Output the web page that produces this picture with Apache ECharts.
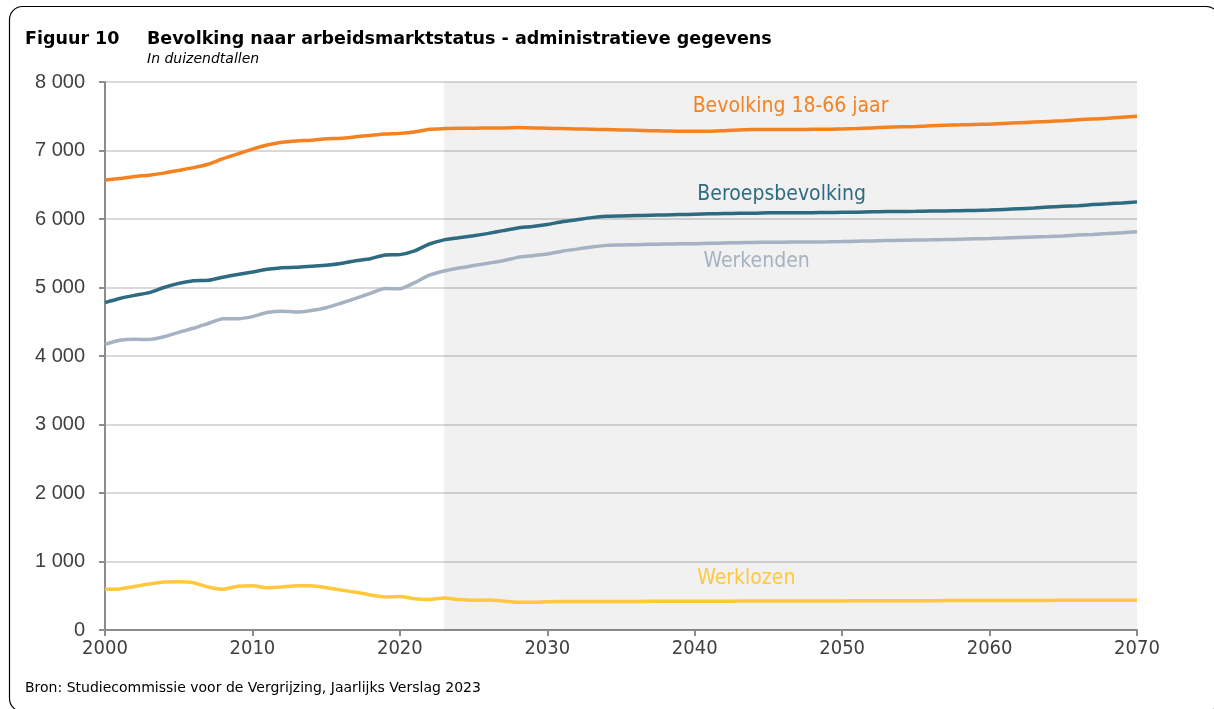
<!DOCTYPE html>
<html>
<head>
    <meta charset="utf-8">
    <title>Figuur 10</title>
    <style>
        html, body { margin: 0; padding: 0; background: #fff; }
    </style>
</head>
<body>
<script src="https://cdn.jsdelivr.net/npm/echarts@6/dist/echarts.min.js" type="text/javascript" charset="utf-8"></script>
<div id="main" style="width: 1214px;height:709px;"></div>
<script type="text/javascript">
    // jaren 2000 - 2070
    var years = [];
    for (var y = 2000; y <= 2070; y++) years.push(y);

    var bevolking = [
        6570, 6590, 6620, 6640, 6670, 6710, 6750, 6800, 6880, 6950,
        7020, 7080, 7120, 7140, 7150, 7170, 7180, 7200, 7220, 7240,
        7250, 7270, 7310, 7320, 7325, 7325, 7330, 7330, 7335, 7330,
        7325, 7320, 7315, 7310, 7305, 7300, 7295, 7290, 7285, 7280,
        7280, 7280, 7290, 7300, 7305, 7305, 7305, 7305, 7310, 7310,
        7315, 7320, 7330, 7340, 7345, 7350, 7360, 7370, 7375, 7380,
        7385, 7395, 7405, 7415, 7425, 7435, 7450, 7460, 7470, 7485,
        7500
    ];
    var beroepsbevolking = [
        4780, 4840, 4885, 4925, 5000, 5060, 5100, 5105, 5150, 5190,
        5225, 5265, 5290, 5295, 5310, 5325, 5350, 5390, 5420, 5475,
        5480, 5535, 5635, 5695, 5725, 5755, 5790, 5830, 5870, 5890,
        5920, 5960, 5990, 6020, 6040, 6045, 6050, 6055, 6060, 6065,
        6070, 6075, 6080, 6085, 6085, 6090, 6090, 6090, 6092, 6095,
        6098, 6100, 6105, 6108, 6110, 6112, 6115, 6118, 6120, 6125,
        6130, 6140, 6150, 6160, 6175, 6185, 6195, 6210, 6222, 6235,
        6250
    ];
    var werkenden = [
        4170, 4230, 4245, 4240, 4280, 4345, 4405, 4475, 4545, 4545,
        4575, 4635, 4655, 4642, 4665, 4705, 4770, 4840, 4915, 4985,
        4980, 5070, 5180, 5240, 5285, 5320, 5355, 5390, 5440, 5465,
        5490, 5530, 5560, 5590, 5615, 5620, 5625, 5630, 5635, 5638,
        5640, 5645, 5650, 5655, 5658, 5660, 5662, 5664, 5665, 5667,
        5670, 5675, 5680, 5685, 5690, 5693, 5696, 5700, 5705, 5710,
        5715, 5722, 5730, 5738, 5745, 5753, 5765, 5775, 5787, 5800,
        5815
    ];
    var werklozen = [
        595, 600, 635, 672, 700, 705, 690, 628, 595, 638,
        647, 618, 628, 647, 647, 618, 585, 550, 512, 483,
        490, 455, 445, 467, 445, 433, 438, 423, 405, 405,
        414, 415, 415, 416, 416, 417, 417, 418, 418, 419,
        420, 421, 421, 422, 422, 423, 423, 424, 424, 425,
        425, 426, 426, 427, 427, 428, 428, 429, 429, 430,
        430, 431, 431, 432, 432, 433, 433, 434, 434, 435,
        435
    ];

    var yTicks = [0, 1000, 2000, 3000, 4000, 5000, 6000, 7000, 8000];
    var xTicks = [2000, 2010, 2020, 2030, 2040, 2050, 2060, 2070];
    var projectieVanaf = 2023;

    function pairs(arr) {
        return years.map(function (yr, i) { return [yr, arr[i]]; });
    }

    var labelFont = '"DejaVu Sans Condensed", "DejaVu Sans", sans-serif';

    function lijn(naam, data, kleur, labelPos) {
        return {
            name: naam,
            type: 'line',
            data: pairs(data),
            showSymbol: false,
            smooth: 0.2,
            lineStyle: { color: kleur, width: 3.5 },
            itemStyle: { color: kleur },
            markPoint: {
                symbol: 'circle',
                symbolSize: 0,
                silent: true,
                data: [{ coord: labelPos, value: naam }],
                label: {
                    show: true,
                    position: 'inside',
                    formatter: naam,
                    color: kleur,
                    fontFamily: labelFont,
                    fontSize: 21
                }
            }
        };
    }

    var myChart = echarts.init(document.getElementById('main'));

    var series = [
        lijn('Bevolking 18-66 jaar', bevolking, '#F58220', [2046.5, 7635]),
        lijn('Beroepsbevolking', beroepsbevolking, '#2F6B80', [2045.9, 6350]),
        lijn('Werkenden', werkenden, '#A6B2C1', [2044.2, 5385]),
        lijn('Werklozen', werklozen, '#FFC83D', [2043.5, 745])
    ];
    // grijze achtergrond voor projectieperiode
    series[0].markArea = {
        silent: true,
        itemStyle: { color: 'rgba(0,0,0,0.055)' },
        data: [[{ xAxis: projectieVanaf }, { xAxis: 2070 }]]
    };

    var option = {
        animation: false,
        backgroundColor: '#fff',
        grid: { left: 105, right: 77, top: 82, bottom: 79 },
        graphic: [
            {
                type: 'rect',
                shape: { x: 9.5, y: 6.5, width: 1210, height: 705, r: 13 },
                style: { fill: 'none', stroke: '#000', lineWidth: 1.2 },
                silent: true
            },
            {
                type: 'text', left: 25, top: 30,
                style: { text: 'Figuur 10', font: 'bold 17.5px "DejaVu Sans", sans-serif', fill: '#000' }
            },
            {
                type: 'text', left: 147, top: 30,
                style: { text: 'Bevolking naar arbeidsmarktstatus - administratieve gegevens', font: 'bold 17.5px "DejaVu Sans", sans-serif', fill: '#000' }
            },
            {
                type: 'text', left: 147, top: 52,
                style: { text: 'In duizendtallen', font: 'italic 14px "DejaVu Sans", sans-serif', fill: '#000' }
            },
            {
                type: 'text', left: 25, top: 681,
                style: { text: 'Bron: Studiecommissie voor de Vergrijzing, Jaarlijks Verslag 2023', font: '14px "DejaVu Sans", sans-serif', fill: '#000' }
            }
        ],
        xAxis: {
            type: 'value',
            min: xTicks[0],
            max: xTicks[xTicks.length - 1],
            interval: 10,
            axisLine: { lineStyle: { color: '#8c8c8c', width: 2 } },
            axisTick: { show: true, length: 6, lineStyle: { color: '#8c8c8c', width: 2 } },
            splitLine: { show: false },
            axisLabel: {
                color: '#404040',
                fontFamily: labelFont,
                fontSize: 20,
                margin: 9,
                formatter: function (v) { return String(v); }
            }
        },
        yAxis: {
            type: 'value',
            min: yTicks[0],
            max: yTicks[yTicks.length - 1],
            interval: 1000,
            axisLine: { show: true, lineStyle: { color: '#8c8c8c', width: 2 } },
            axisTick: { show: true, length: 6, lineStyle: { color: '#8c8c8c', width: 2 } },
            splitLine: { show: true, lineStyle: { color: '#d9d9d9', width: 2 } },
            axisLabel: {
                color: '#404040',
                fontFamily: '"Liberation Sans", Arial, sans-serif',
                fontSize: 20,
                margin: 20,
                formatter: function (v) {
                    return String(v).replace(/\B(?=(\d{3})+(?!\d))/g, ' ');
                }
            }
        },
        series: series
    };

    myChart.setOption(option);
</script>
</body>
</html>
